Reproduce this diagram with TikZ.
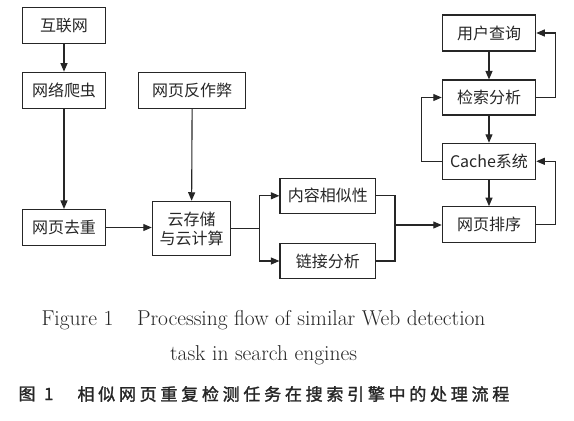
\documentclass[tikz,border=0pt]{standalone}
\usepackage{fontspec}
\newfontfamily\cjk{Noto Sans CJK SC}
\newfontfamily\cjkcap[LetterSpace=22,FakeBold=1.6]{Noto Sans CJK SC}
\newfontfamily\cjkfig[FakeBold=1.6]{Noto Sans CJK SC}
\usetikzlibrary{arrows.meta,calc}
\begin{document}
\begin{tikzpicture}[x=1pt,y=-1pt,
  box/.style={draw=black!85,line width=1.1pt,minimum height=36pt,inner sep=0pt,font=\cjk\fontsize{16}{19}\selectfont,text=black!85},
  arr/.style={draw=black!85,line width=1.1pt,-{Triangle[length=8.5pt,width=7pt]}},
  ln/.style={draw=black!85,line width=1.1pt}]
\useasboundingbox (0,0) rectangle (574,421);
\node[box,minimum width=82.6pt] (internet) at (64,25.7) {互联网};
\node[box,minimum width=82.6pt] (crawler) at (64,90.2) {网络爬虫};
\node[box,minimum width=107pt] (antispam) at (192.2,90.2) {网页反作弊};
\node[box,minimum width=82.6pt] (dedup) at (64,227.5) {网页去重};
\node[box,minimum width=78.4pt,minimum height=54.4pt,align=center] (cloud) at (191.5,228.5) {云存储\\与云计算};
\node[box,minimum width=95.7pt,minimum height=35pt] (content) at (327.8,195.8) {内容相似性};
\node[box,minimum width=95.7pt,minimum height=35pt] (link) at (327.8,261) {链接分析};
\node[box,minimum width=93.4pt] (query) at (489,33) {用户查询};
\node[box,minimum width=93.4pt,minimum height=35pt] (retr) at (489,97.5) {检索分析};
\node[box,minimum width=93.4pt] (cache) at (489,161.3) {Cache系统};
\node[box,minimum width=93.4pt] (rank) at (489,224.7) {网页排序};
\coordinate (split) at (259.3,228.5);
\coordinate (merge) at (395,225);
\draw[arr] (internet) -- (crawler);
\draw[arr] (crawler) -- (dedup);
\draw[arr] (antispam) -- (cloud);
\draw[arr] (dedup.east) -- (dedup.east -| cloud.west);
\draw[ln] (cloud.east) -- (split);
\draw[arr] (split) |- (content.west);
\draw[arr] (split) |- (link.west);
\draw[ln] (content.east) -| (merge);
\draw[ln] (link.east) -| (merge);
\draw[arr] (merge) -- (merge -| rank.west);
\draw[arr] (query) -- (retr);
\draw[arr] (retr) -- (cache);
\draw[arr] (cache) -- (rank);
\draw[arr] (retr.east) -- ++(19.6,0) |- (query.east);
\draw[arr] (rank.east) -- ++(19.6,0) |- (cache.east);
\draw[arr] (cache.west) -- ++(-20.6,0) |- (retr.west);
\node[font=\fontsize{21.5}{21.5}\selectfont,text=black!85] (cap1) at (263.5,320) {Figure 1\hspace{1.1em}Processing flow of similar Web detection};
\node[font=\fontsize{21.5}{21.5}\selectfont,text=black!85] (cap2) at (263.5,355.7) {task in search engines};
\node[font=\cjkfig\fontsize{17}{17}\selectfont,text=black!85,anchor=west] (cap3a) at (15,394) {图\hspace{0.5em}1};
\node[font=\cjkcap\fontsize{17}{17}\selectfont,text=black!85,anchor=west] (cap3b) at (74,394) {相似网页重复检测任务在搜索引擎中的处理流程};
\end{tikzpicture}
\end{document}
